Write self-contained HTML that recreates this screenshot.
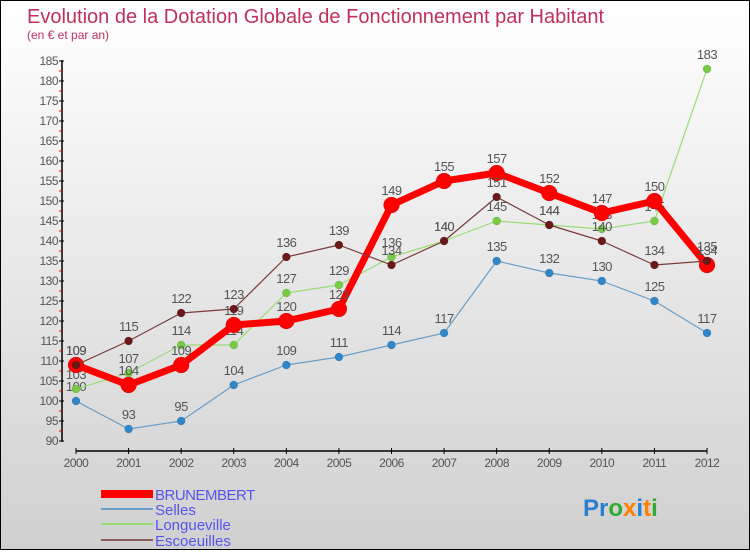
<!DOCTYPE html>
<html><head><meta charset="utf-8"><style>
html,body{margin:0;padding:0}
body{width:750px;height:550px;overflow:hidden;font-family:"Liberation Sans",sans-serif}
#wrap{position:relative;width:748px;height:548px;border:1px solid #000;background:linear-gradient(#ffffff,#d0d0d0)}
</style></head><body>
<div id="wrap">
<svg id="chart" width="748" height="548">
<text x="26" y="22" font-size="20" fill="#c0305a">Evolution de la Dotation Globale de Fonctionnement par Habitant</text>
<text x="26" y="38" font-size="12" fill="#c0305a">(en € et par an)</text>
<g id="axes"></g>
<g id="series"></g>
<g id="legend">
<rect x="100" y="489" width="52" height="8" fill="#f00"/>
<text x="154" y="499" font-size="15" fill="#5555ee" letter-spacing="-0.5">BRUNEMBERT</text>
<rect x="100" y="507" width="52" height="2" fill="#6a9fc8"/>
<text x="154" y="514" font-size="15" fill="#5555ee">Selles</text>
<rect x="100" y="522" width="52" height="2" fill="#99dd77"/>
<text x="154" y="529" font-size="15" fill="#5555ee">Longueville</text>
<rect x="100" y="538" width="52" height="2" fill="#8a5a5a"/>
<text x="154" y="545" font-size="15" fill="#5555ee">Escoeuilles</text>
</g>
<text x="582" y="515" font-size="24" font-weight="bold"><tspan fill="#2a7fd0">Pr</tspan><tspan fill="#33aa33">o</tspan><tspan fill="#ff7f00">x</tspan><tspan fill="#2a7fd0">i</tspan><tspan fill="#ff7f00">t</tspan><tspan fill="#33aa33">i</tspan></text>
</svg>
</div>
<script>
const years = ["2000","2001","2002","2003","2004","2005","2006","2007","2008","2009","2010","2011","2012"];
const brunembert = [109,104,109,119,120,123,149,155,157,152,147,150,134];
const selles = [100,93,95,104,109,111,114,117,135,132,130,125,117];
const longueville = [103,107,114,114,127,129,136,140,145,144,143,145,183];
const escoeuilles = [109,115,122,123,136,139,134,140,151,144,140,134,135];
const yTicks = [90,95,100,105,110,115,120,125,130,135,140,145,150,155,160,165,170,175,180,185];

const NS="http://www.w3.org/2000/svg";
const X0=75, X1=706, Y0=440, YMIN=90, YMAX=185, YTOP=60;
const xs=i=>X0+(X1-X0)*i/(years.length-1);
const ys=v=>Y0-(v-YMIN)*(Y0-YTOP)/(YMAX-YMIN);
function mk(tag,attrs,parent){const e=document.createElementNS(NS,tag);for(const k in attrs)e.setAttribute(k,attrs[k]);parent.appendChild(e);return e;}
const axes=document.getElementById('axes');
let yl=mk('line',{x1:61,y1:YTOP-1,x2:61,y2:Y0+1,stroke:'#000','stroke-width':1.5},axes);


yTicks.forEach(v=>{
  const y=ys(v);
  const t=mk('line',{x1:58,y1:y,x2:63,y2:y,stroke:'#000'},axes);
  
  
  if(v<YMAX){const m=mk('line',{x1:58,y1:ys(v+2.5),x2:61,y2:ys(v+2.5),stroke:'#f00'},axes);
  
  }
  const l=mk('text',{x:57,y:y+4,'font-size':12,fill:'#555','text-anchor':'end','letter-spacing':'-0.5'},axes);
  l.textContent=v;
  
  
});
let xl=mk('line',{x1:X0,y1:450,x2:X1,y2:450,stroke:'#000','stroke-width':1.5},axes);


years.forEach((yr,i)=>{
  const x=xs(i);
  const t=mk('line',{x1:x,y1:447,x2:x,y2:453,stroke:'#000'},axes);
  
  
  const l=mk('text',{x:x,y:466,'font-size':12,fill:'#555','text-anchor':'middle','letter-spacing':'-0.5'},axes);
  l.textContent=yr;
  
  
});
const sg=document.getElementById('series');
function series(name,data,color,w,r,dot){
  const g=mk('g',{},sg);
  
  
  const p=mk('polyline',{points:data.map((v,i)=>xs(i)+','+ys(v)).join(' '),fill:'none',stroke:color,'stroke-width':w,'stroke-linejoin':'round'},g);
  
  
  data.forEach((v,i)=>{
    const c=mk('circle',{cx:xs(i),cy:ys(v),r:r,fill:dot,stroke:'rgba(0,0,0,0.2)','stroke-width':0.5},g);
    
    
    const t=mk('text',{x:xs(i),y:ys(v)-10,'font-size':13,fill:'#555','text-anchor':'middle','letter-spacing':'-0.5'},g);
    t.textContent=v;
    
    
  });
}
series('selles',selles,'#6a9fc8',1.2,4,'#2f86c8');
series('longueville',longueville,'#99dd77',1.2,4,'#77cc44');
series('brunembert',brunembert,'#ff0000',7,8,'#ff0000');
series('escoeuilles',escoeuilles,'#7a3a3a',1.2,4,'#6a1818');
</script>
</body></html>
